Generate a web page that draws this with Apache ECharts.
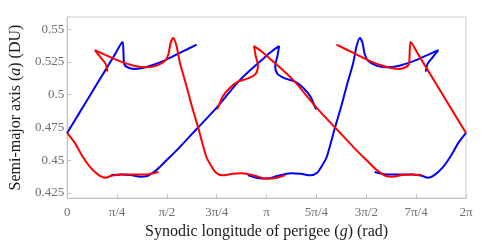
<!DOCTYPE html>
<html>
<head>
<meta charset="utf-8">
<script src="https://cdn.jsdelivr.net/npm/echarts@6/dist/echarts.min.js"></script>
<style>html,body{margin:0;padding:0;background:#fff;}#c{width:488px;height:245px;}</style>
</head>
<body>
<div id="c"></div>
<script>
// x: synodic longitude of perigee g (rad), y: semi-major axis a (DU)
const xTickLabels = ['0', 'π/4', 'π/2', '3π/4', 'π', '5π/4', '3π/2', '7π/4', '2π'];
const yTickValues = [0.425, 0.45, 0.475, 0.5, 0.525, 0.55];
const yTickLabels = ['0.425', '0.45', '0.475', '0.5', '0.525', '0.55'];

// Blue curve segments
const blue1a = [[4.844,0.4409],[5.026,0.4391],[5.234,0.4391],[5.442,0.4391],[5.598,0.4379],[5.676,0.4366],[5.779,0.4384],[5.910,0.4441],[6.039,0.4528],[6.163,0.4632],[6.283,0.4708]];
const blue1b = [[0,0.4708],[0.2,0.4867],[0.4,0.5027],[0.6,0.5186],[0.76,0.5314],[0.872,0.5403],[0.888,0.5309],[0.899,0.5234],[0.950,0.5210],[1.054,0.5197],[1.262,0.5214],[1.522,0.5259],[1.782,0.5321],[2.040,0.5383]];
const blue2 = [[0.692,0.4386],[0.847,0.4391],[1.003,0.4386],[1.159,0.4374],[1.262,0.4379],[1.335,0.4400],[1.417,0.4429],[1.573,0.4503],[1.729,0.4577],[2.040,0.4738],[2.352,0.4900],[2.716,0.5110],[3.079,0.5272],[3.220,0.5330],[3.339,0.5371],[3.313,0.5296],[3.277,0.5222],[3.313,0.5160],[3.442,0.5123],[3.598,0.5098],[3.729,0.5048],[3.832,0.4987],[3.920,0.4887]];
const blue3 = [[2.846,0.4386],[2.975,0.4366],[3.157,0.4359],[3.313,0.4379],[3.520,0.4399],[3.676,0.4396],[3.832,0.4384],[3.936,0.4403],[4.040,0.4478],[4.092,0.4528],[4.221,0.4751],[4.325,0.4924],[4.414,0.5086],[4.508,0.5247],[4.559,0.5371],[4.611,0.5433],[4.653,0.5396],[4.688,0.5309],[4.741,0.5259],[4.871,0.5222],[5.026,0.5210],[5.234,0.5222],[5.494,0.5264],[5.701,0.5309],[5.847,0.5341],[5.754,0.5284],[5.676,0.5234],[5.649,0.5177]];

// Red curve segments
const red1a = [[1.439,0.4409],[1.257,0.4391],[1.049,0.4391],[0.841,0.4391],[0.685,0.4379],[0.607,0.4366],[0.504,0.4384],[0.373,0.4441],[0.244,0.4528],[0.120,0.4632],[0,0.4708]];
const red1b = [[6.283,0.4708],[6.083,0.4867],[5.883,0.5027],[5.683,0.5186],[5.523,0.5314],[5.411,0.5403],[5.395,0.5309],[5.384,0.5234],[5.333,0.5210],[5.229,0.5197],[5.021,0.5214],[4.761,0.5259],[4.501,0.5321],[4.243,0.5383]];
const red2 = [[5.591,0.4386],[5.436,0.4391],[5.280,0.4386],[5.124,0.4374],[5.021,0.4379],[4.948,0.4400],[4.866,0.4429],[4.710,0.4503],[4.554,0.4577],[4.243,0.4738],[3.931,0.4900],[3.567,0.5110],[3.204,0.5272],[3.063,0.5330],[2.944,0.5371],[2.970,0.5296],[3.006,0.5222],[2.970,0.5160],[2.841,0.5123],[2.685,0.5098],[2.554,0.5048],[2.451,0.4987],[2.363,0.4887]];
const red3 = [[3.437,0.4386],[3.308,0.4366],[3.126,0.4359],[2.970,0.4379],[2.763,0.4399],[2.607,0.4396],[2.451,0.4384],[2.347,0.4403],[2.243,0.4478],[2.191,0.4528],[2.062,0.4751],[1.958,0.4924],[1.869,0.5086],[1.775,0.5247],[1.724,0.5371],[1.672,0.5433],[1.630,0.5396],[1.595,0.5309],[1.542,0.5259],[1.412,0.5222],[1.257,0.5210],[1.049,0.5222],[0.789,0.5264],[0.582,0.5309],[0.436,0.5341],[0.529,0.5284],[0.607,0.5234],[0.634,0.5177]];

const FONT = 'Liberation Serif';
const step = Math.PI / 4;
const xTickValues = xTickLabels.map((_, i) => i * step);

function seg(data, color) {
  return {
    type: 'line', data: data, symbol: 'none', smooth: 0.25,
    lineStyle: { color: color, width: 2 }, silent: true, animation: false
  };
}

const titleStyle = { fontFamily: FONT, fontSize: 16, color: '#1a1a1a',
  rich: { i: { fontFamily: FONT, fontSize: 16, fontStyle: 'italic', color: '#1a1a1a' } } };

const chart = echarts.init(document.getElementById('c'), null, { renderer: 'canvas' });
chart.setOption({
  animation: false,
  grid: { left: 62, right: 22, top: 17, bottom: 42, show: true, borderColor: '#cccccc', borderWidth: 1 },
  xAxis: {
    type: 'value', min: 0, max: 2 * Math.PI,
    name: 'Synodic longitude of perigee ({i|g}) (rad)',
    nameLocation: 'middle', nameGap: 19,
    nameTextStyle: titleStyle,
    axisLine: { show: true, lineStyle: { color: '#c4c4c4' } },
    axisTick: { show: true, inside: true, length: 4, lineStyle: { color: '#c4c4c4' }, customValues: xTickValues },
    axisLabel: { fontFamily: FONT, fontSize: 13, color: '#6e6e6e', margin: 8, customValues: xTickValues,
      formatter: v => xTickLabels[Math.round(v / step)] },
    splitLine: { show: false }
  },
  yAxis: {
    type: 'value', min: 0.421, max: 0.5594,
    name: 'Semi-major axis ({i|a}) (DU)',
    nameLocation: 'middle', nameGap: 38,
    nameTextStyle: titleStyle,
    axisLine: { show: true, lineStyle: { color: '#c4c4c4' } },
    axisTick: { show: true, inside: true, length: 4, lineStyle: { color: '#c4c4c4' }, customValues: yTickValues },
    axisLabel: { fontFamily: FONT, fontSize: 13, color: '#6e6e6e', margin: 3, customValues: yTickValues,
      formatter: v => yTickLabels[yTickValues.findIndex(t => Math.abs(t - v) < 1e-6)] },
    splitLine: { show: false }
  },
  series: [
    seg(blue1a, '#0000ff'), seg(blue1b, '#0000ff'), seg(blue2, '#0000ff'), seg(blue3, '#0000ff'),
    seg(red1a, '#ff0000'), seg(red1b, '#ff0000'), seg(red2, '#ff0000'), seg(red3, '#ff0000')
  ]
});
</script>
</body>
</html>
